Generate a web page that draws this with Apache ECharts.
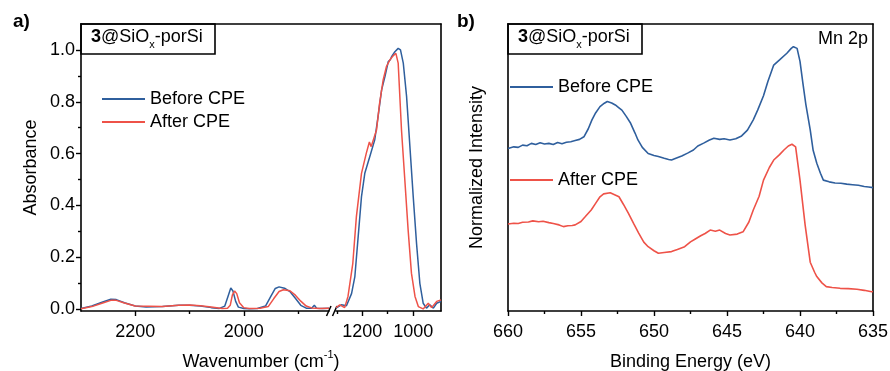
<!DOCTYPE html>
<html>
<head>
<meta charset="utf-8">
<script src="https://cdn.jsdelivr.net/npm/echarts@6/dist/echarts.min.js"></script>
<style>
  html, body { margin: 0; padding: 0; background: #fff; }
  #main { width: 890px; height: 371px; }
</style>
</head>
<body>
<div id="main"></div>
<script>
// IR spectra, [wavenumber, absorbance], split into the two sides of the axis break
var irBeforeHigh = [[2300,0.003],[2280,0.012],[2260,0.028],[2245,0.038],[2235,0.037],[2220,0.025],[2200,0.012],[2180,0.008],[2150,0.010],[2120,0.015],[2100,0.015],[2080,0.012],[2060,0.006],[2045,0.003],[2035,0.012],[2029,0.050],[2024,0.082],[2020,0.070],[2015,0.030],[2010,0.008],[2000,0.003],[1990,0.002],[1975,0.003],[1960,0.012],[1950,0.050],[1942,0.080],[1935,0.086],[1925,0.081],[1915,0.068],[1905,0.042],[1895,0.015],[1885,0.004],[1875,0.004],[1870,0.015],[1866,0.004],[1855,0.003],[1843,0.004]];
var irAfterHigh = [[2300,0.002],[2280,0.010],[2260,0.024],[2245,0.034],[2235,0.034],[2220,0.024],[2200,0.012],[2150,0.010],[2120,0.015],[2100,0.016],[2080,0.013],[2060,0.008],[2040,0.003],[2030,0.004],[2025,0.015],[2021,0.055],[2017,0.070],[2013,0.060],[2008,0.025],[2000,0.006],[1990,0.003],[1970,0.004],[1955,0.010],[1945,0.040],[1935,0.068],[1927,0.075],[1915,0.071],[1905,0.054],[1895,0.031],[1885,0.012],[1875,0.005],[1860,0.003],[1843,0.004]];
var irBeforeLow = [[1303,0.004],[1282,0.017],[1262,0.013],[1242,0.060],[1229,0.126],[1216,0.280],[1203,0.434],[1190,0.524],[1170,0.590],[1151,0.653],[1138,0.743],[1124,0.846],[1111,0.897],[1098,0.955],[1090,0.962],[1085,0.974],[1072,0.993],[1059,1.006],[1050,1.000],[1039,0.949],[1026,0.820],[1013,0.627],[1000,0.434],[987,0.254],[974,0.100],[961,0.023],[948,0.004],[935,0.017],[921,0.004],[908,0.023],[891,0.030]];
var irAfterLow = [[1303,0.006],[1288,0.017],[1269,0.006],[1256,0.049],[1237,0.177],[1223,0.357],[1203,0.524],[1184,0.602],[1172,0.645],[1165,0.627],[1144,0.691],[1132,0.794],[1118,0.884],[1105,0.936],[1092,0.961],[1079,0.977],[1068,0.987],[1059,0.949],[1046,0.691],[1033,0.499],[1020,0.306],[1007,0.139],[993,0.049],[980,0.010],[961,0.001],[941,0.023],[928,0.006],[908,0.030],[891,0.036]];

// XPS Mn 2p, [binding energy, normalized intensity]
var xpsBefore = [[660.0,0.566],[659.6,0.572],[659.3,0.570],[659.0,0.578],[658.7,0.576],[658.4,0.584],[658.1,0.580],[657.8,0.586],[657.5,0.582],[657.2,0.584],[656.9,0.580],[656.6,0.587],[656.3,0.583],[656.0,0.588],[655.7,0.590],[655.4,0.594],[655.1,0.598],[654.8,0.607],[654.5,0.635],[654.25,0.666],[654.0,0.690],[653.7,0.712],[653.4,0.724],[653.2,0.730],[652.9,0.725],[652.65,0.718],[652.4,0.708],[652.2,0.700],[651.9,0.678],[651.6,0.654],[651.3,0.620],[651.1,0.596],[650.8,0.570],[650.4,0.549],[650.0,0.542],[649.7,0.538],[649.3,0.532],[649.0,0.528],[648.8,0.526],[648.5,0.532],[648.1,0.540],[647.7,0.550],[647.3,0.561],[647.0,0.575],[646.6,0.585],[646.2,0.596],[645.9,0.602],[645.5,0.598],[645.2,0.600],[644.8,0.596],[644.4,0.600],[644.0,0.610],[643.6,0.630],[643.2,0.666],[642.9,0.700],[642.5,0.750],[642.2,0.800],[641.8,0.857],[641.4,0.875],[640.9,0.898],[640.6,0.915],[640.45,0.921],[640.2,0.915],[640.0,0.870],[639.8,0.793],[639.6,0.720],[639.3,0.631],[639.1,0.560],[638.85,0.515],[638.6,0.480],[638.4,0.456],[638.0,0.450],[637.6,0.446],[637.2,0.445],[636.8,0.442],[636.4,0.440],[636.0,0.438],[635.6,0.434],[635.3,0.432],[635.0,0.430]];
var xpsAfter = [[660.0,0.303],[659.6,0.306],[659.3,0.305],[659.0,0.309],[658.6,0.310],[658.3,0.314],[657.9,0.311],[657.6,0.313],[657.2,0.308],[656.9,0.305],[656.5,0.300],[656.2,0.294],[655.9,0.297],[655.6,0.298],[655.4,0.300],[655.0,0.312],[654.7,0.329],[654.3,0.352],[654.0,0.375],[653.7,0.398],[653.45,0.408],[653.0,0.412],[652.7,0.405],[652.4,0.398],[652.1,0.372],[651.75,0.340],[651.4,0.305],[651.05,0.271],[650.7,0.240],[650.4,0.224],[650.0,0.210],[649.7,0.201],[649.3,0.204],[648.8,0.207],[648.4,0.214],[647.9,0.224],[647.5,0.241],[647.2,0.250],[646.8,0.262],[646.5,0.270],[646.15,0.282],[645.8,0.278],[645.5,0.282],[645.1,0.270],[644.8,0.265],[644.3,0.268],[643.9,0.276],[643.5,0.310],[643.2,0.352],[642.8,0.400],[642.5,0.456],[642.1,0.500],[641.8,0.526],[641.4,0.545],[641.1,0.561],[640.8,0.575],[640.55,0.581],[640.3,0.572],[640.0,0.456],[639.65,0.300],[639.3,0.170],[639.0,0.135],[638.85,0.120],[638.5,0.098],[638.2,0.085],[637.8,0.082],[637.25,0.079],[636.7,0.078],[636.1,0.076],[635.6,0.072],[635.1,0.067],[635.0,0.068]];

var seriesNames = ['Before CPE', 'After CPE'];
var irTicksHigh = [2200, 2000];
var irMinorHigh = [2100, 1900];
var irTicksLow = [1200, 1000];
var irMinorLow = [1300, 1100];
var absTicks = [0, 0.2, 0.4, 0.6, 0.8, 1.0];
var absMinor = [0.1, 0.3, 0.5, 0.7, 0.9];
var beTicks = [660, 655, 650, 645, 640, 635];
var beMinor = [657.5, 652.5, 647.5, 642.5, 637.5];

var FONT = 'Liberation Sans, Arial, sans-serif';
var BLUE = '#2f5f9d';
var RED = '#ee5248';
var LINE = {color: '#000', width: 1.6};

var myChart = echarts.init(document.getElementById('main'));

// axis with its own labelled ticks (len 5) or minor ticks only (len 3)
function xTicks(grid, min, max, labels, ticks, len, showLine) {
  return {
    gridIndex: grid, type: 'value', position: 'bottom', inverse: true, min: min, max: max,
    axisLine: {show: showLine, onZero: false, lineStyle: LINE},
    axisTick: {show: true, customValues: ticks, length: len, lineStyle: {color: '#000', width: 1.4}},
    axisLabel: {show: labels.length > 0, customValues: labels, margin: 12, fontSize: 18, color: '#000', fontFamily: FONT,
      formatter: function (v) { return String(v); }},
    splitLine: {show: false}
  };
}
function bareAxis(grid, pos) {
  return {
    gridIndex: grid, type: 'value', position: pos, min: 0, max: 1,
    axisLine: {show: true, onZero: false, lineStyle: LINE},
    axisTick: {show: false}, axisLabel: {show: false}, splitLine: {show: false}
  };
}

var supRich = {
  n: {fontSize: 18, color: '#000', fontFamily: FONT, lineHeight: 22, verticalAlign: 'bottom'},
  s: {fontSize: 11, color: '#000', fontFamily: FONT, lineHeight: 11, verticalAlign: 'top'}
};
var boxRich = {
  b: {fontSize: 18, fontWeight: 'bold', color: '#000', fontFamily: FONT, lineHeight: 22, verticalAlign: 'top'},
  n: {fontSize: 18, fontWeight: 'normal', color: '#000', fontFamily: FONT, lineHeight: 22, verticalAlign: 'top'},
  s: {fontSize: 11, fontWeight: 'normal', color: '#000', fontFamily: FONT, lineHeight: 11, verticalAlign: 'bottom'}
};
var boxText = '{b|3}{n|@SiO}{s|x}{n|-porSi}';

function line(name, data, xi, yi, color, width) {
  return {
    name: name, type: 'line', data: data, xAxisIndex: xi, yAxisIndex: yi,
    symbol: 'none', lineStyle: {color: color, width: width}, itemStyle: {color: color}
  };
}

var legendBase = {
  data: seriesNames, orient: 'vertical', icon: 'rect', itemWidth: 43, itemHeight: 2,
  selectedMode: false, textStyle: {fontSize: 18, color: '#000', fontFamily: FONT}
};

var option = {
  animation: false,
  textStyle: {fontFamily: FONT},
  title: [
    {text: 'a)', left: 8, top: 7, textStyle: {fontSize: 19, fontWeight: 'bold', color: '#000', fontFamily: FONT}},
    {text: 'b)', left: 452, top: 7, textStyle: {fontSize: 19, fontWeight: 'bold', color: '#000', fontFamily: FONT}},
    {text: boxText, left: 81, top: 24, padding: [4, 12, 4, 10], borderColor: '#000', borderWidth: 1.6,
      textStyle: {fontWeight: 'normal', rich: boxRich}},
    {text: boxText, left: 508, top: 24, padding: [4, 12, 4, 10], borderColor: '#000', borderWidth: 1.6,
      textStyle: {fontWeight: 'normal', rich: boxRich}},
    {text: 'Mn 2p', right: 17, top: 25, textStyle: {fontSize: 18, fontWeight: 'normal', color: '#000', fontFamily: FONT}}
  ],
  legend: [
    Object.assign({left: 97, top: 85, itemGap: 5}, legendBase),
    Object.assign({left: 505, top: 73, itemGap: 75}, legendBase)
  ],
  grid: [
    {left: 81, top: 24, width: 248, height: 287, outerBoundsMode: 'none'},
    {left: 336, top: 24, width: 105, height: 287, outerBoundsMode: 'none'},
    {left: 81, top: 24, width: 360, height: 287, outerBoundsMode: 'none'},
    {left: 508, top: 24, width: 365, height: 287, outerBoundsMode: 'none'}
  ],
  xAxis: [
    xTicks(0, 1843, 2300, irTicksHigh, irTicksHigh, 5, true),
    xTicks(0, 1843, 2300, [], irMinorHigh, 3, false),
    xTicks(1, 891, 1303, irTicksLow, irTicksLow, 5, true),
    xTicks(1, 891, 1303, [], irMinorLow, 3, false),
    bareAxis(2, 'top'),
    {gridIndex: 2, type: 'value', position: 'bottom', min: 0, max: 1,
      axisLine: {show: false}, axisTick: {show: false}, axisLabel: {show: false}, splitLine: {show: false},
      name: '{n|Wavenumber (cm}{s|-1}{n|)}', nameLocation: 'middle', nameGap: 38,
      nameTextStyle: {rich: supRich}},
    Object.assign(xTicks(3, 635, 660, beTicks, beTicks, 5, true), {
      name: 'Binding Energy (eV)', nameLocation: 'middle', nameGap: 42,
      nameTextStyle: {fontSize: 18, color: '#000', fontFamily: FONT}}),
    xTicks(3, 635, 660, [], beMinor, 3, false),
    bareAxis(3, 'top')
  ],
  yAxis: [
    {gridIndex: 0, type: 'value', position: 'left', min: -0.007, max: 1.1,
      axisLine: {show: true, onZero: false, lineStyle: LINE},
      axisTick: {show: true, customValues: absTicks, length: 5, lineStyle: {color: '#000', width: 1.4}},
      axisLabel: {customValues: absTicks, margin: 6, fontSize: 18, color: '#000', fontFamily: FONT,
        formatter: function (v) { return v.toFixed(1); }},
      splitLine: {show: false},
      name: 'Absorbance', nameLocation: 'middle', nameGap: 41,
      nameTextStyle: {fontSize: 18, color: '#000', fontFamily: FONT}},
    {gridIndex: 0, type: 'value', position: 'left', min: -0.007, max: 1.1,
      axisLine: {show: false},
      axisTick: {show: true, customValues: absMinor, length: 3, lineStyle: {color: '#000', width: 1.4}},
      axisLabel: {show: false}, splitLine: {show: false}},
    {gridIndex: 1, type: 'value', min: -0.007, max: 1.1, show: false},
    bareAxis(2, 'right'),
    Object.assign(bareAxis(3, 'left'), {
      name: 'Normalized Intensity', nameLocation: 'middle', nameGap: 22,
      nameTextStyle: {fontSize: 18, color: '#000', fontFamily: FONT}}),
    bareAxis(3, 'right')
  ],
  graphic: [
    {type: 'line', shape: {x1: 326.5, y1: 316, x2: 331, y2: 306}, style: {stroke: '#000', lineWidth: 1.5}},
    {type: 'line', shape: {x1: 332.5, y1: 316, x2: 337, y2: 306}, style: {stroke: '#000', lineWidth: 1.5}}
  ],
  series: [
    line(seriesNames[0], irBeforeHigh, 0, 0, BLUE, 1.5),
    line(seriesNames[0], irBeforeLow, 2, 2, BLUE, 1.5),
    line(seriesNames[1], irAfterHigh, 0, 0, RED, 1.5),
    line(seriesNames[1], irAfterLow, 2, 2, RED, 1.5),
    line(seriesNames[0], xpsBefore, 6, 4, BLUE, 1.6),
    line(seriesNames[1], xpsAfter, 6, 4, RED, 1.6)
  ]
};

myChart.setOption(option);
</script>
</body>
</html>
